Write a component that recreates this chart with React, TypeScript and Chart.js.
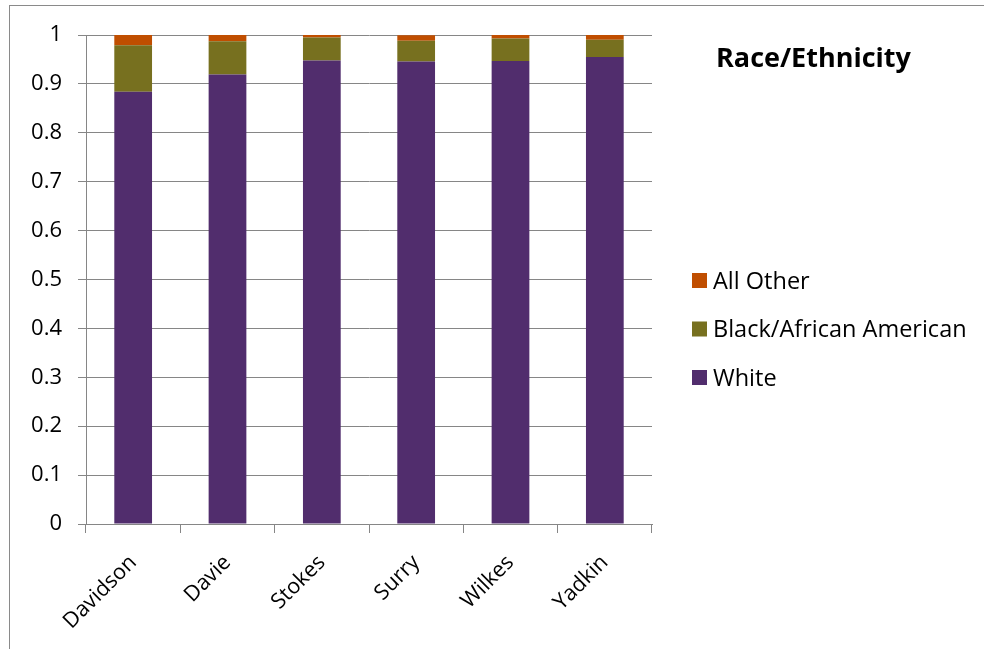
import React, { useEffect, useRef } from "react";
import { Chart, registerables } from "chart.js";

Chart.register(...registerables);

const counties = ["Davidson", "Davie", "Stokes", "Surry", "Wilkes", "Yadkin"];
const whiteShare = [0.884, 0.919, 0.948, 0.946, 0.947, 0.955];
const blackShare = [0.095, 0.068, 0.047, 0.042, 0.046, 0.0355];
const otherShare = [0.021, 0.013, 0.005, 0.0115, 0.007, 0.0095];
const yTicks = [0, 0.1, 0.2, 0.3, 0.4, 0.5, 0.6, 0.7, 0.8, 0.9, 1];
const chartTitle = "Race/Ethnicity";

const FONT = "'Open Sans', 'Liberation Sans', sans-serif";
const GRID = "#868686";

const legendPlugin = {
  id: "sideLegend",
  afterDraw(chart: any) {
    const ctx = chart.ctx;
    ctx.save();
    ctx.fillStyle = "#000";
    ctx.font = `bold 27px ${FONT}`;
    ctx.textBaseline = "alphabetic";
    ctx.textAlign = "left";
    ctx.fillText(chartTitle, 716, 67);
    const ds = chart.data.datasets;
    ctx.font = `23.5px ${FONT}`;
    const order = [...ds.keys()].reverse();
    order.forEach((di: number, i: number) => {
      const d = ds[di];
      const cy = 280 + i * 48.5;
      ctx.fillStyle = d.backgroundColor;
      ctx.fillRect(692, cy - 7, 15, 15);
      ctx.fillStyle = "#000";
      ctx.fillText(d.label, 713, cy + 8.5);
    });
    ctx.restore();
  },
};

export default function App() {
  const ref = useRef<HTMLCanvasElement>(null);
  useEffect(() => {
    if (!ref.current) return;
    const chart = new Chart(ref.current, {
      type: "bar",
      data: {
        labels: counties,
        datasets: [
          { label: "White", data: whiteShare, backgroundColor: "#512D6D" },
          { label: "Black/African American", data: blackShare, backgroundColor: "#77701F" },
          { label: "All Other", data: otherShare, backgroundColor: "#C04E00" },
        ],
      },
      options: {
        animation: false,
        responsive: false,
        maintainAspectRatio: false,
        layout: { padding: { top: 35, right: 332, left: 0, bottom: 0 } },
        plugins: { legend: { display: false }, tooltip: { enabled: false } },
        datasets: { bar: { barPercentage: 0.4, categoryPercentage: 1 } },
        scales: {
          x: {
            stacked: true,
            offset: true,
            grid: { offset: true, drawOnChartArea: false, drawTicks: true, tickLength: 9, color: GRID },
            border: { color: GRID },
            ticks: { color: "#000", font: { family: FONT, size: 21.5 }, maxRotation: 45, minRotation: 45, padding: 17 },
            afterFit: (s: any) => { s.height = 125; },
          },
          y: {
            stacked: true,
            min: 0,
            max: 1,
            afterBuildTicks: (s: any) => { s.ticks = yTicks.map((v) => ({ value: v })); },
            grid: { color: GRID, tickLength: 8 },
            border: { color: GRID },
            ticks: {
              color: "#000",
              font: { family: FONT, size: 22 },
              padding: 16,
              callback: (v: any) => String(Number(Number(v).toFixed(1))),
            },
            afterFit: (s: any) => { s.width = 86; },
          },
        },
      },
      plugins: [legendPlugin],
    });
    return () => chart.destroy();
  }, []);
  return (
    <div style={{ position: "fixed", left: 0, top: 0, width: 984, height: 649, overflow: "hidden", background: "#fff" }}>
      <div style={{ position: "absolute", left: 9, top: 5, width: 2000, height: 2000, borderLeft: "1px solid #8a8a8a", borderTop: "1px solid #8a8a8a" }} />
      <canvas ref={ref} width={984} height={649} style={{ position: "absolute", left: 0, top: 0 }} />
    </div>
  );
}
